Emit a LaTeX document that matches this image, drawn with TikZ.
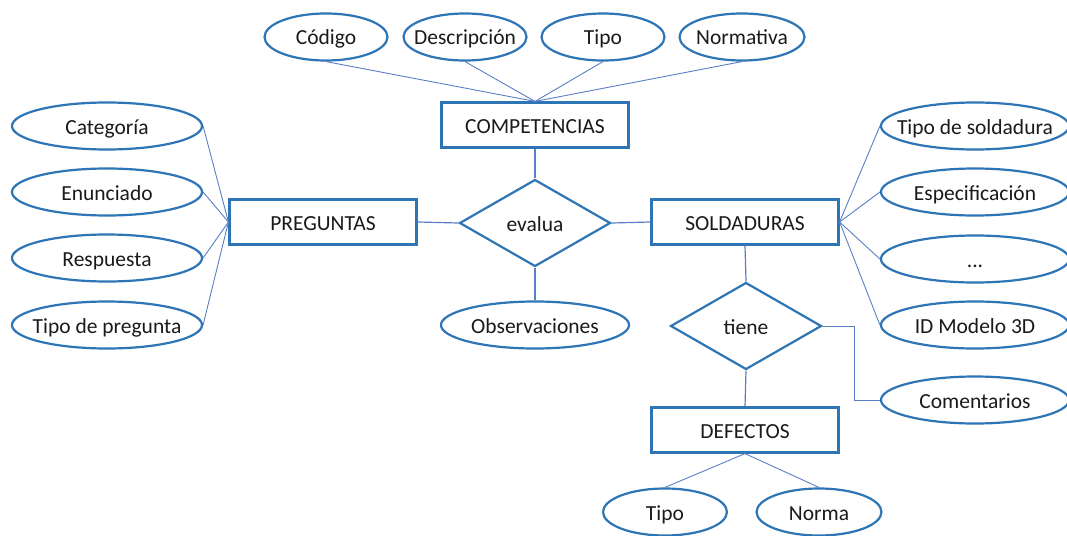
\documentclass[tikz,border=0pt]{standalone}
\usepackage{fontspec}
\setmainfont{Carlito}
\usetikzlibrary{shapes.geometric}
\definecolor{shapeblue}{HTML}{2E75B6}
\definecolor{linkblue}{HTML}{5B7FC7}
\definecolor{txt}{HTML}{1A1A1A}
\newcommand{\ctr}[1]{\makebox[0pt]{#1}}
\begin{document}
\begin{tikzpicture}[x=1pt,y=-1pt,
  every node/.style={font=\fontsize{21.5}{24}\selectfont, text=txt, text height=16pt, text depth=0pt},
  attr/.style={ellipse, draw=shapeblue, line width=2.2pt, inner sep=0pt, minimum height=47pt},
  entity/.style={rectangle, draw=shapeblue, line width=2.2pt, inner sep=0pt, minimum width=187pt, minimum height=45pt},
  rel/.style={diamond, draw=shapeblue, line width=2.2pt, inner sep=0pt, minimum width=151pt, minimum height=87pt},
  link/.style={draw=linkblue, line width=0.9pt},
  thicklink/.style={draw=linkblue, line width=1.2pt}]
\useasboundingbox (0,0) rectangle (1067,535);
\fill[white] (0,0) rectangle (1067,535);

% entities
\node[entity] (comp) at (535,125) {COMPETENCIAS};
\node[entity] (preg) at (323,222) {PREGUNTAS};
\node[entity] (sold) at (745,222) {SOLDADURAS};
\node[entity] (def) at (745,430) {DEFECTOS};

% relations
\node[rel] (evalua) at (535,223) {\ctr{evalua}};
\node[rel] (tiene) at (746,326) {\ctr{tiene}};

% top attributes
\node[attr, minimum width=123pt] (codigo) at (326,37) {\ctr{Código}};
\node[attr, minimum width=123pt] (desc) at (465,37) {\ctr{Descripción}};
\node[attr, minimum width=123pt] (tipoc) at (603,37) {\ctr{Tipo}};
\node[attr, minimum width=125pt] (norm) at (742,37) {\ctr{Normativa}};

% left attributes
\node[attr, minimum width=190pt] (cat) at (107,126) {\ctr{Categoría}};
\node[attr, minimum width=190pt] (enun) at (107,192) {\ctr{Enunciado}};
\node[attr, minimum width=190pt] (resp) at (107,258) {\ctr{Respuesta}};
\node[attr, minimum width=190pt] (tipop) at (107,325) {\ctr{Tipo de pregunta}};

% observaciones
\node[attr, minimum width=188pt] (obs) at (535,325) {\ctr{Observaciones}};

% right attributes
\node[attr, minimum width=188pt] (tsold) at (975,126) {\ctr{Tipo de soldadura}};
\node[attr, minimum width=188pt] (espec) at (975,192) {\ctr{Especificación}};
\node[attr, minimum width=188pt] (dots) at (975,259) {\ctr{...}};
\node[attr, minimum width=188pt] (idmod) at (975,325) {\ctr{ID Modelo 3D}};
\node[attr, minimum width=188pt] (coment) at (975,400) {\ctr{Comentarios}};

% bottom attributes
\node[attr, minimum width=124pt] (tipod) at (665,512) {\ctr{Tipo}};
\node[attr, minimum width=125pt] (norma) at (819,512) {\ctr{Norma}};

% connectors
\foreach \a in {codigo,desc,tipoc,norm} \draw[link] (\a.south) -- (comp.north);
\foreach \a in {cat,enun,resp,tipop} \draw[link] (\a.east) -- (preg.west);
\foreach \a in {tsold,espec,dots,idmod} \draw[link] (\a.west) -- (sold.east);
\draw[thicklink] (comp.south) -- (evalua.north);
\draw[thicklink] (evalua.south) -- (obs.north);
\draw[thicklink] (preg.east) -- (evalua.west);
\draw[thicklink] (evalua.east) -- (sold.west);
\draw[thicklink] (sold.south) -- (tiene.north);
\draw[thicklink] (tiene.south) -- (def.north);
\draw[link] (tiene.east) -- ++(32,0) |- (coment.west);
\draw[link] (def.south) -- (tipod.north);
\draw[link] (def.south) -- (norma.north);
\end{tikzpicture}
\end{document}
